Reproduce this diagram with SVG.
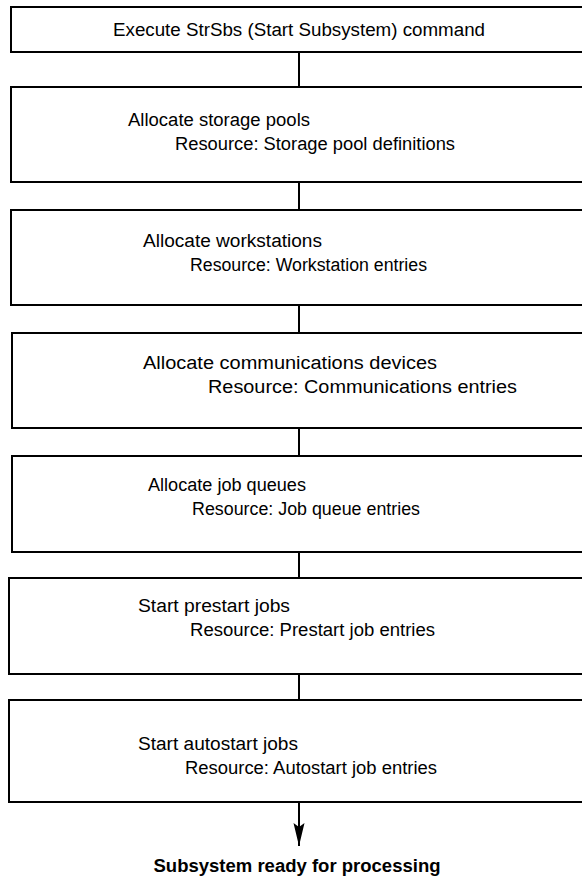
<svg xmlns="http://www.w3.org/2000/svg" width="582" height="885" viewBox="0 0 582 885">
  <style>
    .box { fill: #fff; stroke: #000; stroke-width: 2; }
    .edge { stroke: #000; stroke-width: 2; fill: none; }
    .t { font-family: "Liberation Sans", Arial, sans-serif; font-size: 18px; fill: #000; }
    .c { text-anchor: middle; }
    .b { font-weight: bold; font-size: 18px; }
  </style>
  <defs>
    <!-- long narrow arrowhead, tip at the path end -->
    <marker id="arrow" markerWidth="24" markerHeight="12" refX="23" refY="6" orient="auto" markerUnits="userSpaceOnUse">
      <path d="M0,0.5 L23,6 L0,11.5 L4,6 Z" fill="#000"/>
    </marker>
  </defs>
  <rect width="582" height="885" fill="#fff"/>

  <g id="connectors">
    <line class="edge" x1="299" y1="52" x2="299" y2="87"/>
    <line class="edge" x1="299" y1="182" x2="299" y2="210"/>
    <line class="edge" x1="299" y1="305" x2="299" y2="333"/>
    <line class="edge" x1="299" y1="428" x2="299" y2="456"/>
    <line class="edge" x1="299" y1="552" x2="299" y2="578"/>
    <line class="edge" x1="299" y1="674" x2="299" y2="700"/>
    <line class="edge" x1="299" y1="802" x2="299" y2="846" marker-end="url(#arrow)"/>
  </g>

  <g id="start">
    <rect class="box" x="11" y="7" width="580" height="45"/>
    <text class="t c" x="299" y="36" textLength="372" lengthAdjust="spacingAndGlyphs">Execute StrSbs (Start Subsystem) command</text>
  </g>

  <g id="storage-pools">
    <rect class="box" x="11" y="87" width="580" height="95"/>
    <text class="t" x="128" y="126" textLength="182" lengthAdjust="spacingAndGlyphs">Allocate storage pools</text>
    <text class="t" x="175" y="150" textLength="280" lengthAdjust="spacingAndGlyphs">Resource: Storage pool definitions</text>
  </g>

  <g id="workstations">
    <rect class="box" x="11" y="210" width="580" height="95"/>
    <text class="t" x="143" y="247" textLength="179" lengthAdjust="spacingAndGlyphs">Allocate workstations</text>
    <text class="t" x="190" y="271" textLength="237" lengthAdjust="spacingAndGlyphs">Resource: Workstation entries</text>
  </g>

  <g id="comm-devices">
    <rect class="box" x="12" y="333" width="580" height="95"/>
    <text class="t" x="143" y="369" textLength="294" lengthAdjust="spacingAndGlyphs">Allocate communications devices</text>
    <text class="t" x="208" y="393" textLength="309" lengthAdjust="spacingAndGlyphs">Resource: Communications entries</text>
  </g>

  <g id="job-queues">
    <rect class="box" x="12" y="456" width="580" height="96"/>
    <text class="t" x="148" y="491" textLength="158" lengthAdjust="spacingAndGlyphs">Allocate job queues</text>
    <text class="t" x="192" y="515" textLength="228" lengthAdjust="spacingAndGlyphs">Resource: Job queue entries</text>
  </g>

  <g id="prestart-jobs">
    <rect class="box" x="9" y="578" width="580" height="96"/>
    <text class="t" x="138" y="612" textLength="152" lengthAdjust="spacingAndGlyphs">Start prestart jobs</text>
    <text class="t" x="190" y="636" textLength="245" lengthAdjust="spacingAndGlyphs">Resource: Prestart job entries</text>
  </g>

  <g id="autostart-jobs">
    <rect class="box" x="9" y="700" width="580" height="102"/>
    <text class="t" x="138" y="750" textLength="160" lengthAdjust="spacingAndGlyphs">Start autostart jobs</text>
    <text class="t" x="185" y="774" textLength="252" lengthAdjust="spacingAndGlyphs">Resource: Autostart job entries</text>
  </g>

  <g id="ready">
    <text class="t c b" x="297" y="872" textLength="287" lengthAdjust="spacingAndGlyphs">Subsystem ready for processing</text>
  </g>
</svg>
